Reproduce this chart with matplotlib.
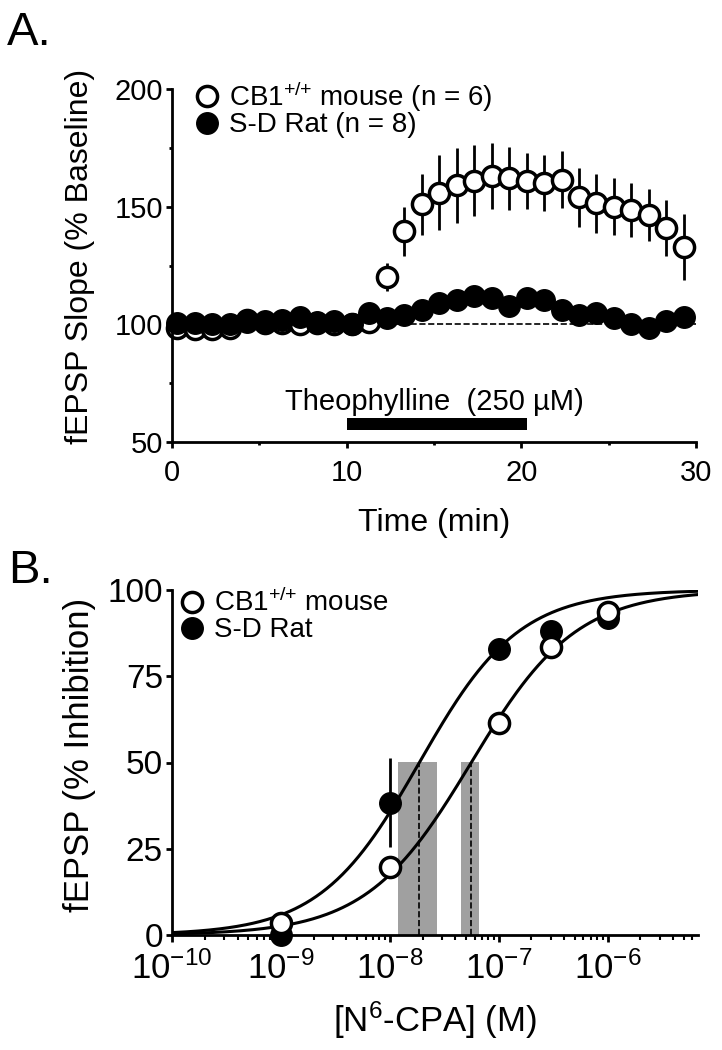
import matplotlib
matplotlib.use('Agg')
import matplotlib.pyplot as plt
from matplotlib.lines import Line2D
from matplotlib.ticker import FixedLocator, LogLocator, NullFormatter
import numpy as np

plt.rcParams['font.family'] = ['Liberation Sans', 'DejaVu Sans']
plt.rcParams['mathtext.fontset'] = 'custom'
plt.rcParams['mathtext.rm'] = 'Liberation Sans'
plt.rcParams['mathtext.it'] = 'Liberation Sans:italic'
plt.rcParams['mathtext.bf'] = 'Liberation Sans:bold'
plt.rcParams['mathtext.default'] = 'regular'

# ---- panel A: theophylline time course ----
time_min = [0.3, 1.3, 2.3, 3.3, 4.3, 5.3, 6.3, 7.3, 8.3, 9.3,
            10.3, 11.3, 12.3, 13.3, 14.3, 15.3, 16.3, 17.3, 18.3, 19.3,
            20.3, 21.3, 22.3, 23.3, 24.3, 25.3, 26.3, 27.3, 28.3, 29.3]
cb1_slope = [98.5, 98, 98, 98.5, 102, 100.5, 100.5, 100, 100.5, 100,
             100, 101, 120, 139.5, 151, 156, 159, 161, 163, 162,
             161, 160, 161.5, 154, 151.5, 150, 148.5, 146.5, 141, 133]
cb1_sem = [1, 1, 1, 1, 1, 1, 1, 1, 1, 1,
           1, 1.5, 6, 10.5, 13, 16, 16, 15, 14, 13.5,
           12, 12, 12, 12.5, 12.5, 12, 11.5, 11, 12, 14]
rat_slope = [100.5, 100.5, 100, 100, 101, 101.5, 102, 103, 101, 101.5,
             100, 105, 102.5, 104, 106, 109, 110.5, 112, 111, 108,
             111, 110.5, 106, 104, 105, 102.5, 100, 98.5, 101.5, 103]
rat_sem = [1, 1, 1, 1, 1, 1, 1, 1, 1, 1,
           1, 1.5, 1.5, 2, 2, 2, 2, 2, 2, 2,
           2, 2, 2, 2, 2, 2, 2, 2, 2, 2]
drug_on, drug_off = 10, 20.3

# ---- panel B: N6-CPA concentration-response ----
conc = [1e-9, 1e-8, 1e-7, 3e-7, 1e-6]
cb1_inhib = [3.5, 19.8, 61.5, 83.4, 93.5]
cb1_inhib_sem = [1, 1.5, 3, 2, 1.5]
rat_inhib = [0, 38.4, 82.8, 88, 92]
rat_inhib_sem = [1, 13, 2, 1.5, 1.5]
cb1_ec50, cb1_hill, cb1_ci = 5.6e-8, 0.9, (4.5e-8, 6.6e-8)
rat_ec50, rat_hill, rat_ci = 1.87e-8, 0.95, (1.18e-8, 2.73e-8)


def hill(x, ec50, n):
    return 100.0 / (1.0 + (ec50 / x) ** n)


open_style = dict(marker='o', ms=14.5, mfc='white', mec='black', mew=2.5, ls='none')
fill_style = dict(marker='o', ms=15.5, mfc='black', mec='black', mew=1, ls='none')

fig = plt.figure(figsize=(7.22, 10.5), dpi=100)

# ---------- A ----------
axA = fig.add_axes([172 / 722, 1 - 442 / 1050, 524 / 722, 353 / 1050])
axA.plot([0, 30], [100, 100], color='black', ls='--', lw=1.2, zorder=1)
axA.errorbar(time_min, cb1_slope, yerr=cb1_sem, ecolor='black', elinewidth=2,
             capsize=0, zorder=2, clip_on=False, **open_style)
axA.errorbar(time_min, rat_slope, yerr=rat_sem, ecolor='black', elinewidth=2,
             capsize=0, zorder=3, clip_on=False, **fill_style)
axA.fill_between([drug_on, drug_off], 55, 60, color='black', lw=0)
axA.text(15, 63.7, u'Theophylline  (250 \u00b5M)', ha='center', va='baseline', fontsize=21)

axA.set_xlim(0, 30)
axA.set_ylim(50, 200)
axA.xaxis.set_major_locator(FixedLocator([0, 10, 20, 30]))
axA.xaxis.set_minor_locator(FixedLocator([5, 15, 25]))
axA.yaxis.set_major_locator(FixedLocator([50, 100, 150, 200]))
axA.yaxis.set_minor_locator(FixedLocator([75, 125, 175]))
axA.set_xlabel('Time (min)', fontsize=23, va='center')
axA.set_ylabel('fEPSP Slope (% Baseline)', fontsize=23, va='center')
axA.xaxis.set_label_coords(0.5, -0.23)
axA.yaxis.set_label_coords(-0.176, 0.527)
axA.tick_params(axis='x', which='major', labelsize=21, length=4, width=2, pad=8)
axA.tick_params(axis='y', which='major', labelsize=21, length=4, width=2, pad=2.5)
axA.tick_params(which='minor', length=2.5, width=2)

handlesA = [Line2D([], [], **open_style), Line2D([], [], **fill_style)]
axA.legend(handlesA, [r'CB1$^{{+}/{+}}$ mouse (n = 6)', 'S-D Rat (n = 8)'],
           loc='upper left', bbox_to_anchor=(0.046, 1.028), frameon=False,
           fontsize=20, handlelength=0.8, handletextpad=0.4, labelspacing=-0.05,
           borderpad=0, borderaxespad=0)

# ---------- B ----------
axB = fig.add_axes([172 / 722, 1 - 935 / 1050, 526 / 722, 345 / 1050])
axB.set_xscale('log')
xs = np.logspace(-10, -5.17, 300)
for lo, hi in (rat_ci, cb1_ci):
    axB.fill_between([lo, hi], 0, 50, color='#a0a0a0', lw=0, zorder=1)
for ec in (rat_ec50, cb1_ec50):
    axB.plot([ec, ec], [0, 50], color='black', ls='--', lw=1.2, zorder=2)
axB.plot(xs, hill(xs, rat_ec50, rat_hill), color='black', lw=2.2, zorder=3)
axB.plot(xs, hill(xs, cb1_ec50, cb1_hill), color='black', lw=2.2, zorder=3)
axB.errorbar(conc, rat_inhib, yerr=rat_inhib_sem, ecolor='black', elinewidth=2,
             capsize=0, zorder=4, clip_on=False, **fill_style)
axB.errorbar(conc, cb1_inhib, yerr=cb1_inhib_sem, ecolor='black', elinewidth=2,
             capsize=0, zorder=5, clip_on=False, **open_style)

axB.set_xlim(1e-10, 10 ** -5.17)
axB.set_ylim(0, 100)
axB.set_xticks([1e-10, 1e-9, 1e-8, 1e-7, 1e-6])
axB.set_xticklabels([r'$10^{-10}$', r'$10^{-9}$', r'$10^{-8}$', r'$10^{-7}$', r'$10^{-6}$'])
axB.xaxis.set_minor_locator(LogLocator(base=10, subs=np.arange(2, 10)))
axB.xaxis.set_minor_formatter(NullFormatter())
axB.set_yticks([0, 25, 50, 75, 100])
axB.set_xlabel(r'[N$^{6}$-CPA] (M)', fontsize=25, va='center')
axB.set_ylabel('fEPSP (% Inhibition)', fontsize=25, va='center')
axB.xaxis.set_label_coords(0.5, -0.246)
axB.yaxis.set_label_coords(-0.175, 0.522)
axB.tick_params(axis='x', which='major', labelsize=25, length=5, width=2, pad=7)
axB.tick_params(axis='x', which='minor', length=3.5, width=1.5)
axB.tick_params(axis='y', which='major', labelsize=24, length=4, width=2, pad=2.5)

handlesB = [Line2D([], [], **open_style), Line2D([], [], **fill_style)]
axB.legend(handlesB, [r'CB1$^{{+}/{+}}$ mouse', 'S-D Rat'],
           loc='upper left', bbox_to_anchor=(0.017, 1.003), frameon=False,
           fontsize=20, handlelength=0.8, handletextpad=0.4, labelspacing=0.0,
           borderpad=0, borderaxespad=0)

for ax in (axA, axB):
    for s in ('top', 'right'):
        ax.spines[s].set_visible(False)
    for s in ('left', 'bottom'):
        ax.spines[s].set_linewidth(2)

fig.text(7 / 722, 1 - 45 / 1050, 'A.', fontsize=34, ha='left', va='baseline')
fig.text(8 / 722, 1 - 583 / 1050, 'B.', fontsize=34, ha='left', va='baseline')

fig.savefig('out.png', dpi=100)
